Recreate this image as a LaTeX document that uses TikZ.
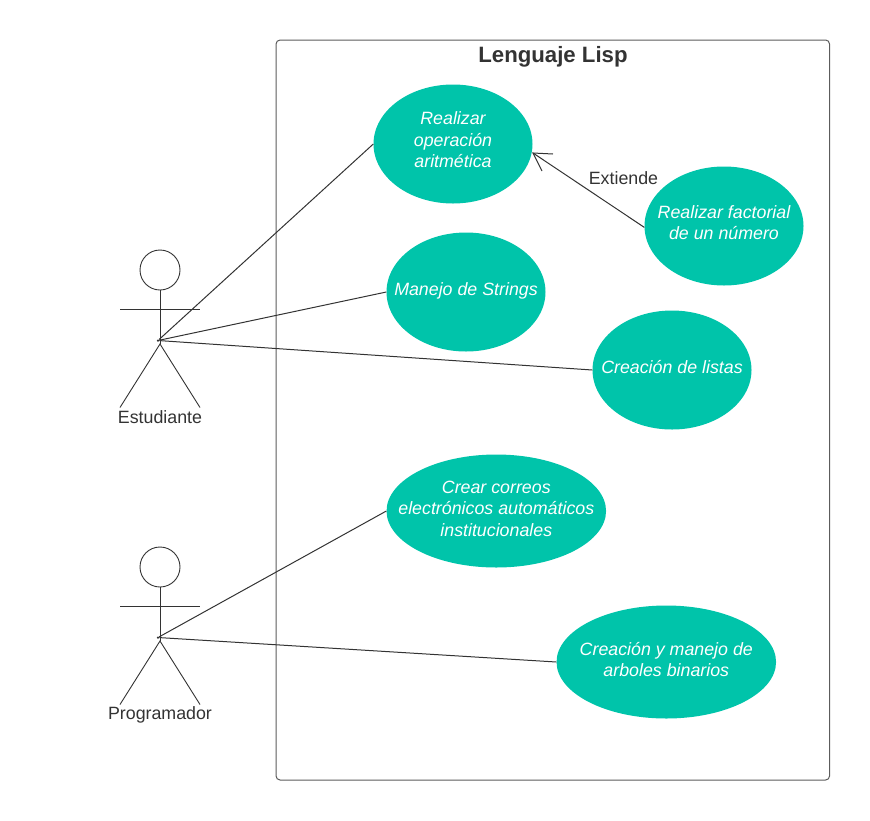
\documentclass[tikz,border=0pt]{standalone}
\usepackage{fontspec}
\setmainfont{Liberation Sans}
\usetikzlibrary{arrows.meta,shapes.geometric}
\definecolor{uc}{HTML}{00C4AA}
\definecolor{ink}{HTML}{333333}
\tikzset{
  ucase/.style={ellipse,fill=uc,inner sep=0pt,minimum width=159pt,minimum height=119pt},
  ucwide/.style={ucase,minimum width=219.5pt,minimum height=113pt},
  uctext/.style={text=white,inner sep=0pt,align=center,yshift=2.5pt,font=\fontsize{17.8}{21.5}\selectfont\itshape},
  lbl/.style={text=ink,inner sep=0pt,font=\fontsize{17.8}{21}\selectfont},
  link/.style={draw=ink,line width=1pt},
  stick/.style={draw=ink,line width=0.9pt},
  hub/.style={circle,fill=ink,inner sep=0pt,minimum size=2.5pt}
}
\begin{document}
\begin{tikzpicture}[x=1pt,y=-1pt]
\useasboundingbox (0,0) rectangle (870,820);
\node[draw=ink!80,line width=1pt,rounded corners=4pt,inner sep=0pt,minimum width=553.5pt,minimum height=740pt] (sys) at (552.8,410) {};
\node[text=ink,inner sep=0pt,font=\fontsize{22.2}{26}\selectfont\bfseries] (title) at (553,57) {Lenguaje Lisp};

\node[ucase] (e1) at (453,144) {};
\node[ucase] (e2) at (466,292) {};
\node[ucase] (e3) at (724,226) {};
\node[ucase] (e4) at (672,370) {};
\node[ucwide] (e5) at (496.3,511) {};
\node[ucwide] (e6) at (666.3,662) {};
\node[uctext,yshift=1.5pt] (t1) at (e1) {Realizar\\operación\\aritmética};
\node[uctext,yshift=-1pt] (t2) at (e2) {Manejo de Strings};
\node[uctext,yshift=0.7pt] (t3) at (e3) {Realizar factorial\\de un número};
\node[uctext] (t4) at (e4) {Creación de listas};
\node[uctext] (t5) at (e5) {Crear correos\\electrónicos automáticos\\institucionales};
\node[uctext] (t6) at (e6) {Creación y manejo de\\arboles binarios};

% Estudiante
\node[stick,draw,circle,minimum size=40pt,inner sep=0pt] (h1) at (160,270) {};
\coordinate (n1) at (160,344);
\coordinate (al1) at (120,309);
\coordinate (ar1) at (200,309);
\coordinate (ll1) at (120,407.5);
\coordinate (lr1) at (200,407.5);
\draw[stick] (h1.south) -- (n1);
\draw[stick] (al1) -- (ar1);
\draw[stick] (ll1) -- (n1) -- (lr1);
\node[lbl] (a1) at (160,417.5) {Estudiante};
\node[hub] (p1) at (158,340.5) {};

% Programador
\node[stick,draw,circle,minimum size=40pt,inner sep=0pt] (h2) at (160,567) {};
\coordinate (n2) at (160,641);
\coordinate (al2) at (120,606);
\coordinate (ar2) at (200,606);
\coordinate (ll2) at (120,704.5);
\coordinate (lr2) at (200,704.5);
\draw[stick] (h2.south) -- (n2);
\draw[stick] (al2) -- (ar2);
\draw[stick] (ll2) -- (n2) -- (lr2);
\node[lbl] (a2) at (160,715) {Programador};
\node[hub] (p2) at (158,637.5) {};

\draw[link] (p1) -- (e1.west);
\draw[link] (p1) -- (e2.west);
\draw[link] (p1) -- (e4.west);
\draw[link] (p2) -- (e5.west);
\draw[link] (p2) -- (e6.west);

\coordinate (tip) at (533,153);
\coordinate (b1) at (553,154);
\coordinate (b2) at (542,171);
\draw[link] (e3.181) -- (tip);
\draw[link] (b1) -- (tip) -- (b2);
\node[lbl] (ext) at (623.5,178.5) {Extiende};
\end{tikzpicture}
\end{document}
